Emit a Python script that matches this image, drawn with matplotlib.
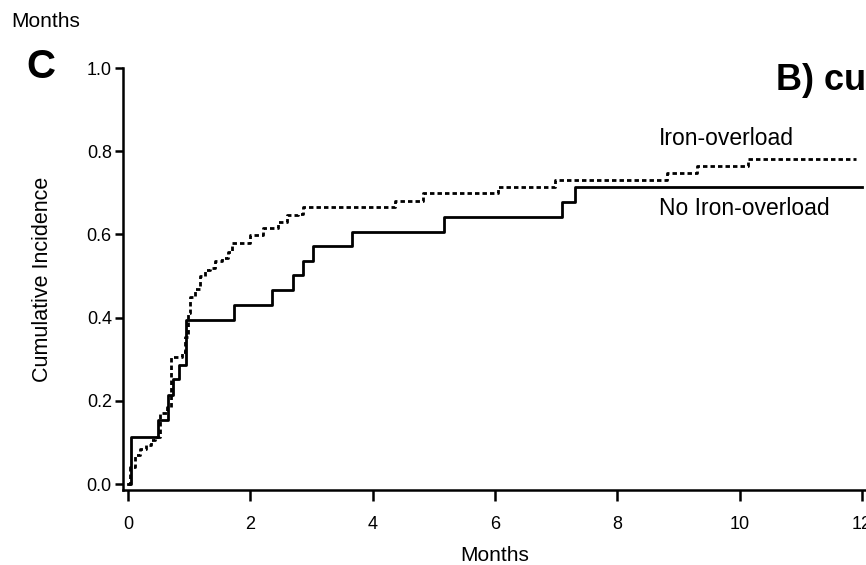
import matplotlib
matplotlib.use("Agg")
import matplotlib.pyplot as plt

plt.rcParams['font.family'] = ['Liberation Sans', 'DejaVu Sans']

# No iron-overload (solid step curve)
t_no = [0, 0.05, 0.49, 0.65, 0.74, 0.83, 0.95, 1.73, 2.35, 2.70, 2.86, 3.03,
        3.66, 5.16, 7.09, 7.30, 12.0]
ci_no = [0, 0.113, 0.154, 0.214, 0.252, 0.286, 0.394, 0.43, 0.466, 0.502, 0.536,
         0.571, 0.607, 0.643, 0.679, 0.714, 0.714]

# Iron-overload (dotted step curve)
t_iron = [0, 0.03, 0.11, 0.2, 0.3, 0.38, 0.44, 0.52, 0.64, 0.7, 0.88, 0.94,
          0.98, 1.01, 1.09, 1.18, 1.26, 1.34, 1.42, 1.54, 1.63, 1.70, 2.0, 2.21,
          2.45, 2.60, 2.78, 2.86, 4.36, 4.82, 6.05, 6.98, 8.81, 9.30, 10.13, 11.9]
ci_iron = [0, 0.04, 0.07, 0.085, 0.095, 0.105, 0.113, 0.17, 0.185, 0.305, 0.317,
           0.353, 0.41, 0.45, 0.47, 0.50, 0.515, 0.52, 0.535, 0.543, 0.558, 0.58,
           0.598, 0.615, 0.63, 0.647, 0.65, 0.666, 0.68, 0.70, 0.714, 0.731,
           0.748, 0.764, 0.781, 0.781]

xticks = [0, 2, 4, 6, 8, 10, 12]
yticks = [0.0, 0.2, 0.4, 0.6, 0.8, 1.0]

fig = plt.figure(figsize=(8.66, 5.65), dpi=100)
ax = fig.add_axes([0.142, 0.1327, 0.858, 0.7469])

ax.step(t_iron, ci_iron, where='post', color='black', lw=2.0,
        linestyle=(0, (1.6, 1.1)))
ax.step(t_no, ci_no, where='post', color='black', lw=2.0)

ax.set_xlim(-0.082, 12.065)
ax.set_ylim(-0.0144, 1.0)
ax.set_xticks(xticks)
ax.set_xticklabels([str(v) for v in xticks])
ax.set_yticks(yticks)
ax.set_yticklabels(['%.1f' % v for v in yticks])

for s in ['top', 'right']:
    ax.spines[s].set_visible(False)
for s in ['left', 'bottom']:
    ax.spines[s].set_linewidth(1.8)
ax.tick_params(axis='x', length=8, width=1.8, labelsize=13, pad=11)
ax.tick_params(axis='y', length=6, width=1.8, labelsize=13, pad=2)

ax.set_xlabel('Months', fontsize=15, labelpad=9)
ax.set_ylabel('Cumulative Incidence', fontsize=15.5, labelpad=24)

ax.text(8.68, 0.83, 'Iron-overload', fontsize=16.5, va='center', ha='left')
ax.text(8.68, 0.662, 'No Iron-overload', fontsize=16.5, va='center', ha='left')

fig.text(0.013, 0.962, 'Months', fontsize=15, va='center', ha='left')
fig.text(0.03, 0.882, 'C', fontsize=29, fontweight='bold', va='center', ha='left')
fig.text(0.896, 0.858, 'B) cu', fontsize=26, fontweight='bold',
         va='center', ha='left')

fig.savefig('out.png', dpi=100)
